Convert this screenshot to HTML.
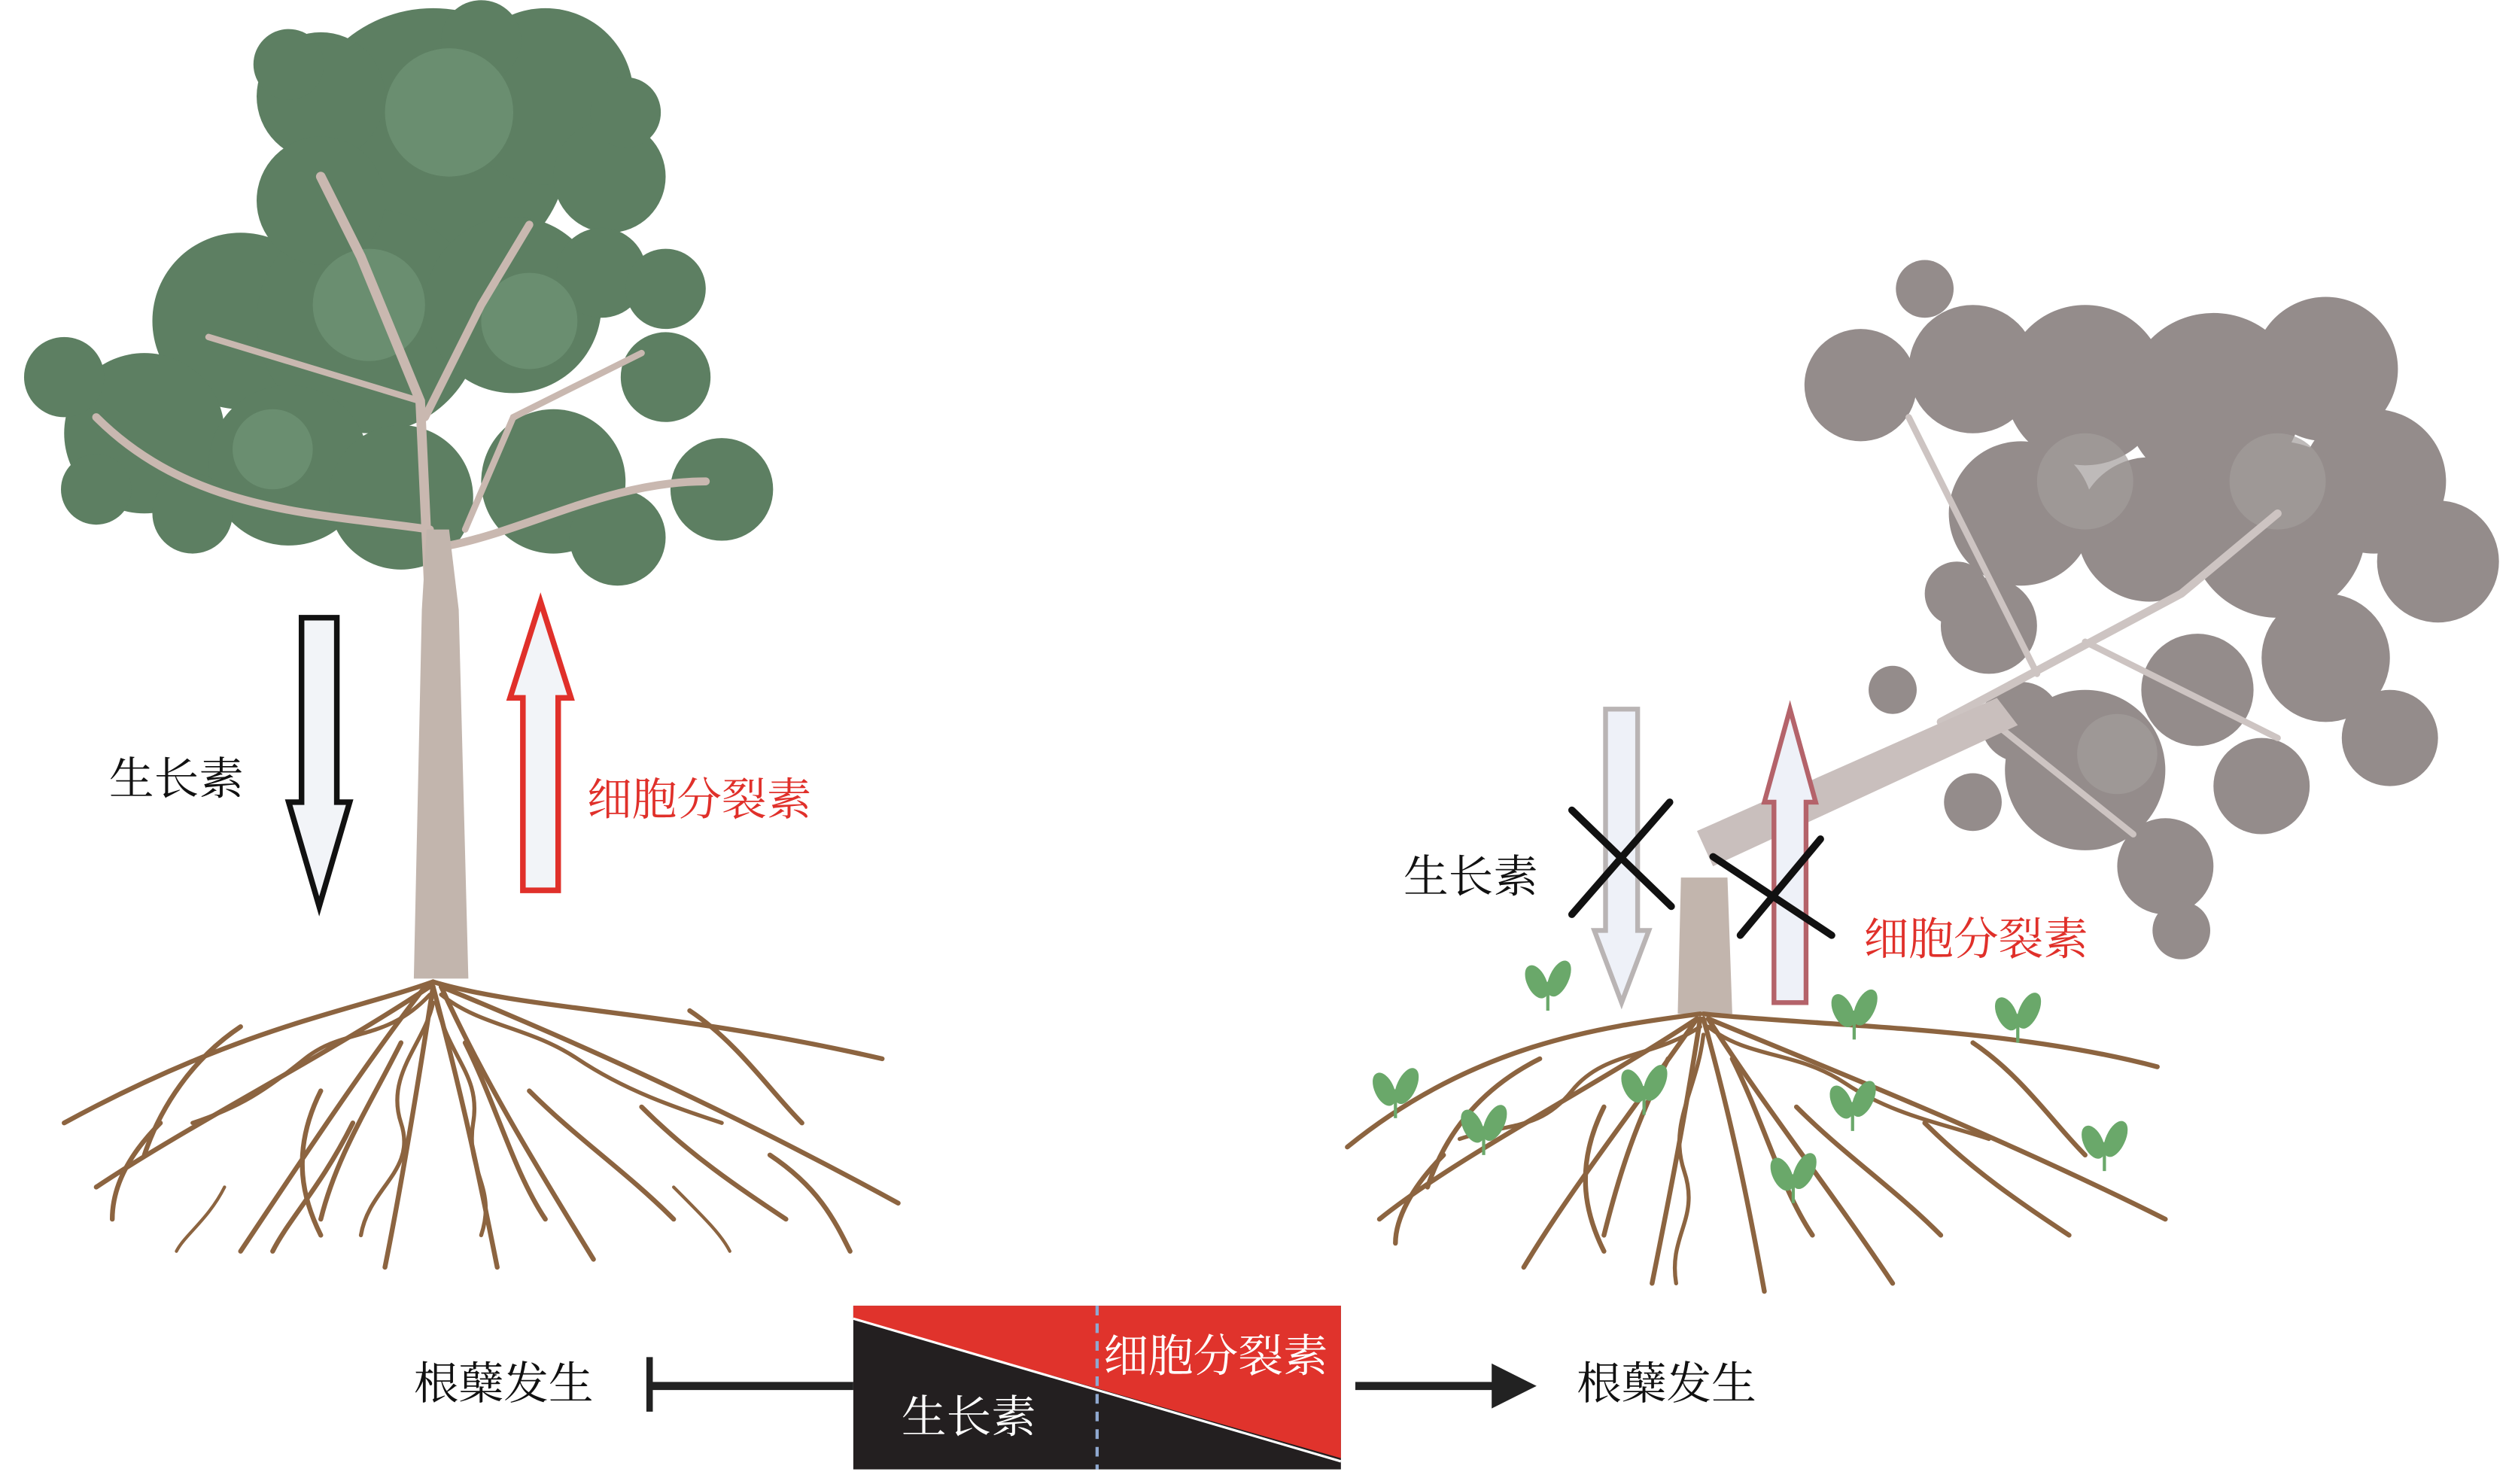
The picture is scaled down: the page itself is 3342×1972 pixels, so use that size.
<!DOCTYPE html>
<html><head><meta charset="utf-8"><style>
html,body{margin:0;padding:0;background:#fff;}
svg{display:block;}
text{font-family:"Liberation Serif","Noto Serif CJK SC","Noto Sans CJK SC",serif;}
</style></head><body>
<svg width="3342" height="1972" viewBox="0 0 1568 925" xmlns="http://www.w3.org/2000/svg">
<rect width="1568" height="925" fill="#fff"/>
<!-- LEFT TREE canopy -->
<g fill="#5d7f62">
<circle cx="270" cy="90" r="85"/><circle cx="200" cy="60" r="40"/><circle cx="340" cy="60" r="55"/>
<circle cx="380" cy="110" r="35"/><circle cx="150" cy="200" r="55"/><circle cx="230" cy="200" r="70"/>
<circle cx="320" cy="190" r="55"/><circle cx="90" cy="270" r="50"/><circle cx="40" cy="235" r="25"/>
<circle cx="180" cy="290" r="50"/><circle cx="250" cy="310" r="45"/><circle cx="345" cy="300" r="45"/>
<circle cx="375" cy="170" r="28"/><circle cx="415" cy="180" r="25"/><circle cx="415" cy="235" r="28"/>
<circle cx="450" cy="305" r="32"/><circle cx="385" cy="335" r="30"/><circle cx="120" cy="320" r="25"/>
<circle cx="60" cy="305" r="22"/><circle cx="200" cy="125" r="40"/>
<circle cx="180" cy="40" r="22"/><circle cx="300" cy="25" r="25"/><circle cx="390" cy="70" r="22"/>
</g>
<g fill="#6e9274" opacity="0.8">
<circle cx="280" cy="70" r="40"/><circle cx="230" cy="190" r="35"/><circle cx="330" cy="200" r="30"/><circle cx="170" cy="280" r="25"/>
</g>
<g stroke="#c9b8b0" fill="none" stroke-linecap="round">
<path d="M268 380 L262 250 L225 160 L200 110" stroke-width="6"/>
<path d="M265 260 L300 190 L330 140" stroke-width="5"/>
<path d="M268 330 C200 320 120 320 60 260" stroke-width="5"/>
<path d="M280 340 C330 330 380 300 440 300" stroke-width="5"/>
<path d="M290 330 L320 260 L400 220" stroke-width="4"/>
<path d="M262 250 L130 210" stroke-width="4"/>
</g>
<path d="M258 610 L263 380 L266 330 L280 330 L286 380 L292 610 Z" fill="#c2b5ad"/>
<!-- LEFT ROOTS -->
<g stroke="#8c6440" fill="none" stroke-width="3" stroke-linecap="round">
<path d="M270 612 C220 630 150 640 40 700"/><path d="M270 612 C330 630 420 630 550 660"/>
<path d="M265 615 C230 660 190 720 150 780"/><path d="M275 615 C300 670 330 720 370 785"/>
<path d="M270 615 C260 680 250 740 240 790"/><path d="M270 615 C290 690 300 740 310 790"/>
<path d="M268 615 C200 660 120 700 60 740"/><path d="M275 615 C360 650 450 690 560 750"/>
<path d="M150 640 C120 660 100 690 90 720"/><path d="M430 630 C460 650 480 680 500 700"/>
<path d="M200 680 C180 720 190 750 200 770"/><path d="M330 680 C360 710 390 730 420 760"/>
<path d="M220 700 C200 740 180 760 170 780"/><path d="M400 690 C430 720 460 740 490 760"/>
<path d="M100 700 C80 720 70 740 70 760"/><path d="M480 720 C510 740 520 760 530 780"/>
<path d="M250 650 C230 690 210 720 200 760"/><path d="M290 650 C310 690 320 730 340 760"/>
<path d="M268 620 C240 650 215 640 190 660 S150 690 120 700" stroke-width="2.5"/>
<path d="M275 620 C300 640 330 640 360 660 S420 690 450 700" stroke-width="2.5"/>
<path d="M270 625 C265 650 240 670 250 700 S230 740 225 770" stroke-width="2.5"/>
<path d="M272 625 C280 660 300 670 295 700 S310 740 300 770" stroke-width="2.5"/>
<path d="M140 740 C130 760 115 770 110 780" stroke-width="2"/>
<path d="M420 740 C440 760 450 770 455 780" stroke-width="2"/>
</g>
<!-- left arrows -->
<path d="M188 385 H210 V500 H218 L199 565 L180 500 H188 Z" fill="#f2f4f8" stroke="#111" stroke-width="3.5"/>
<path d="M326 555 H348 V435 H356 L337 375 L318 435 H326 Z" fill="#f2f4f8" stroke="#e0302a" stroke-width="3.5"/>
<text x="68" y="495" font-size="28" fill="#111">生长素</text>
<text x="366" y="508" font-size="28" fill="#e0302a">细胞分裂素</text>

<!-- RIGHT fallen tree -->
<g fill="#948c8b">
<circle cx="1200" cy="180" r="18"/><circle cx="1160" cy="240" r="35"/><circle cx="1230" cy="230" r="40"/>
<circle cx="1300" cy="240" r="50"/><circle cx="1380" cy="250" r="55"/><circle cx="1450" cy="230" r="45"/>
<circle cx="1480" cy="300" r="45"/><circle cx="1520" cy="350" r="38"/><circle cx="1420" cy="330" r="55"/>
<circle cx="1340" cy="330" r="45"/><circle cx="1260" cy="320" r="45"/><circle cx="1240" cy="390" r="30"/>
<circle cx="1450" cy="410" r="40"/><circle cx="1490" cy="460" r="30"/><circle cx="1370" cy="430" r="35"/>
<circle cx="1300" cy="480" r="50"/><circle cx="1350" cy="540" r="30"/><circle cx="1360" cy="580" r="18"/>
<circle cx="1410" cy="490" r="30"/><circle cx="1230" cy="500" r="18"/><circle cx="1180" cy="430" r="15"/>
<circle cx="1260" cy="450" r="25"/><circle cx="1220" cy="370" r="20"/>
</g>
<g fill="#a39c9b" opacity="0.7"><circle cx="1300" cy="300" r="30"/><circle cx="1420" cy="300" r="30"/><circle cx="1320" cy="470" r="25"/></g>
<g stroke="#cdc4c2" fill="none" stroke-linecap="round">
<path d="M1210 450 L1360 370 L1420 320" stroke-width="5"/>
<path d="M1270 420 L1230 340 L1190 260" stroke-width="4"/>
<path d="M1300 400 L1420 460" stroke-width="4"/>
<path d="M1230 440 L1330 520" stroke-width="4"/>
</g>
<path d="M1058 518 L1245 435 L1258 452 L1068 540 Z" fill="#c9bfbd"/>
<path d="M1048 547 H1077 L1080 632 H1046 Z" fill="#c2b5ad"/>
<!-- right roots -->
<g stroke="#8c6440" fill="none" stroke-width="3" stroke-linecap="round">
<path d="M1060 632 C1000 640 920 650 840 715"/><path d="M1062 632 C1140 640 1250 640 1345 665"/>
<path d="M1058 635 C1020 690 980 740 950 790"/><path d="M1065 635 C1100 690 1140 740 1180 800"/>
<path d="M1060 635 C1050 700 1040 750 1030 800"/><path d="M1062 635 C1080 700 1090 750 1100 805"/>
<path d="M1058 635 C990 680 910 720 860 760"/><path d="M1065 635 C1150 670 1250 710 1350 760"/>
<path d="M960 660 C920 680 900 710 890 740"/><path d="M1230 650 C1260 670 1280 700 1300 720"/>
<path d="M1000 690 C980 730 990 760 1000 780"/><path d="M1120 690 C1150 720 1180 740 1210 770"/>
<path d="M1200 700 C1230 730 1260 750 1290 770"/><path d="M900 720 C880 740 870 760 870 775"/>
<path d="M1040 660 C1020 700 1010 730 1000 770"/><path d="M1080 660 C1100 700 1110 740 1130 770"/>
<path d="M1060 640 C1030 660 1000 655 980 680 S940 700 910 710" stroke-width="2.5"/>
<path d="M1065 640 C1090 660 1120 655 1150 675 S1210 700 1240 710" stroke-width="2.5"/>
<path d="M1062 645 C1058 680 1040 700 1050 730 S1040 770 1045 800" stroke-width="2.5"/>
</g>
<!-- seedlings -->
<g fill="#6aa86a" stroke="#6aa86a" stroke-width="2">
<g transform="translate(965,630)"><path d="M0 0 V-18" fill="none"/><ellipse cx="-7" cy="-18" rx="5" ry="10" transform="rotate(-25 -7 -18)"/><ellipse cx="7" cy="-20" rx="5" ry="11" transform="rotate(25 7 -20)"/></g>
<g transform="translate(1156,648)"><path d="M0 0 V-18" fill="none"/><ellipse cx="-7" cy="-18" rx="5" ry="10" transform="rotate(-25 -7 -18)"/><ellipse cx="7" cy="-20" rx="5" ry="11" transform="rotate(25 7 -20)"/></g>
<g transform="translate(1258,650)"><path d="M0 0 V-18" fill="none"/><ellipse cx="-7" cy="-18" rx="5" ry="10" transform="rotate(-25 -7 -18)"/><ellipse cx="7" cy="-20" rx="5" ry="11" transform="rotate(25 7 -20)"/></g>
<g transform="translate(870,697)"><path d="M0 0 V-18" fill="none"/><ellipse cx="-7" cy="-18" rx="5" ry="10" transform="rotate(-25 -7 -18)"/><ellipse cx="7" cy="-20" rx="5" ry="11" transform="rotate(25 7 -20)"/></g>
<g transform="translate(925,720)"><path d="M0 0 V-18" fill="none"/><ellipse cx="-7" cy="-18" rx="5" ry="10" transform="rotate(-25 -7 -18)"/><ellipse cx="7" cy="-20" rx="5" ry="11" transform="rotate(25 7 -20)"/></g>
<g transform="translate(1025,695)"><path d="M0 0 V-18" fill="none"/><ellipse cx="-7" cy="-18" rx="5" ry="10" transform="rotate(-25 -7 -18)"/><ellipse cx="7" cy="-20" rx="5" ry="11" transform="rotate(25 7 -20)"/></g>
<g transform="translate(1155,705)"><path d="M0 0 V-18" fill="none"/><ellipse cx="-7" cy="-18" rx="5" ry="10" transform="rotate(-25 -7 -18)"/><ellipse cx="7" cy="-20" rx="5" ry="11" transform="rotate(25 7 -20)"/></g>
<g transform="translate(1118,750)"><path d="M0 0 V-18" fill="none"/><ellipse cx="-7" cy="-18" rx="5" ry="10" transform="rotate(-25 -7 -18)"/><ellipse cx="7" cy="-20" rx="5" ry="11" transform="rotate(25 7 -20)"/></g>
<g transform="translate(1312,730)"><path d="M0 0 V-18" fill="none"/><ellipse cx="-7" cy="-18" rx="5" ry="10" transform="rotate(-25 -7 -18)"/><ellipse cx="7" cy="-20" rx="5" ry="11" transform="rotate(25 7 -20)"/></g>
</g>
<!-- right arrows -->
<path d="M1001 442 H1021 V580 H1028 L1011 625 L994 580 H1001 Z" fill="#eef1f8" stroke="#b9b4b4" stroke-width="3"/>
<path d="M1106 625 H1126 V500 H1132 L1116 442 L1100 500 H1106 Z" fill="#eef1f8" stroke="#b4636a" stroke-width="3"/>
<g stroke="#111" stroke-width="4.5" stroke-linecap="round">
<line x1="980" y1="505" x2="1042" y2="565"/><line x1="1041" y1="500" x2="980" y2="570"/>
<line x1="1068" y1="534" x2="1142" y2="583"/><line x1="1135" y1="523" x2="1085" y2="583"/>
</g>
<text x="875" y="556" font-size="28" fill="#111">生长素</text>
<text x="1162" y="595" font-size="28" fill="#e0302a">细胞分裂素</text>

<!-- bottom bar -->
<rect x="532" y="814" width="304" height="102" fill="#231f20"/>
<path d="M532 814 H836 V909 L532 822 Z" fill="#e0332c"/>
<line x1="532" y1="822" x2="836" y2="911" stroke="#fff" stroke-width="1.5"/>
<line x1="684" y1="814" x2="684" y2="916" stroke="#8fa8d0" stroke-width="2" stroke-dasharray="6,5"/>
<text x="688" y="855" font-size="28" fill="#fff">细胞分裂素</text>
<text x="562" y="893" font-size="28" fill="#fff">生长素</text>
<text x="258" y="872" font-size="28" fill="#111">根蘖发生</text>
<line x1="405" y1="864" x2="532" y2="864" stroke="#222" stroke-width="5"/>
<line x1="405" y1="846" x2="405" y2="880" stroke="#222" stroke-width="4"/>
<line x1="845" y1="864" x2="935" y2="864" stroke="#222" stroke-width="5"/>
<path d="M930 850 L958 864 L930 878 Z" fill="#222"/>
<text x="983" y="872" font-size="28" fill="#111">根蘖发生</text>
</svg>
</body></html>
